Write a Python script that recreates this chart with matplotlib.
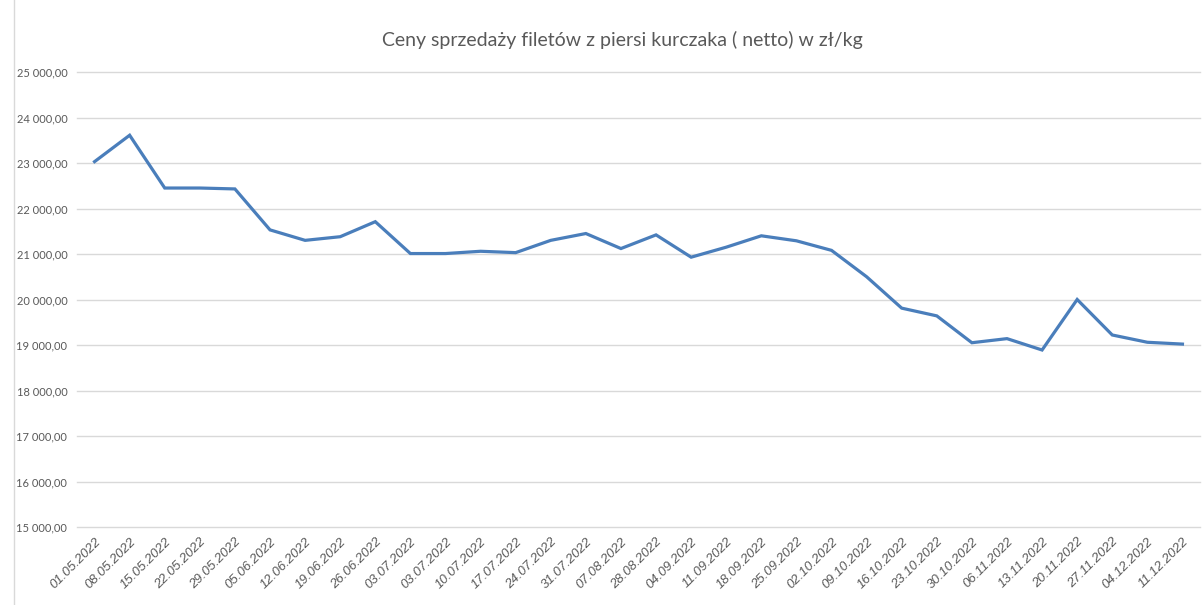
import numpy as np
import matplotlib.pyplot as plt
from matplotlib.patches import Rectangle
from matplotlib.ticker import FuncFormatter

plt.rcParams['font.family'] = ['Lato', 'Open Sans', 'DejaVu Sans']

dates = ['01.05.2022', '08.05.2022', '15.05.2022', '22.05.2022', '29.05.2022',
         '05.06.2022', '12.06.2022', '19.06.2022', '26.06.2022', '03.07.2022',
         '03.07.2022', '10.07.2022', '17.07.2022', '24.07.2022', '31.07.2022',
         '07.08.2022', '28.08.2022', '04.09.2022', '11.09.2022', '18.09.2022',
         '25.09.2022', '02.10.2022', '09.10.2022', '16.10.2022', '23.10.2022',
         '30.10.2022', '06.11.2022', '13.11.2022', '20.11.2022', '27.11.2022',
         '04.12.2022', '11.12.2022']
prices = [23030, 23610, 22450, 22450, 22430, 21530, 21300, 21380, 21710, 21010,
          21010, 21060, 21030, 21300, 21450, 21120, 21420, 20930, 21150, 21400,
          21290, 21080, 20500, 19810, 19640, 19050, 19140, 18890, 20000, 19220,
          19060, 19020]
title = 'Ceny sprzedaży filetów z piersi kurczaka ( netto) w zł/kg'

fig = plt.figure(figsize=(12.04, 6.05), dpi=100)
fig.patches.append(Rectangle((14 / 1204, -0.01), 1.0, 1.02, transform=fig.transFigure,
                             fill=False, edgecolor='#d9d9d9', lw=1))
ax = fig.add_axes([77 / 1204, 78 / 605, 1123 / 1204, 455 / 605])

x = np.arange(len(dates))
ax.plot(x, prices, color='#4a7ebb', lw=2.3, solid_joinstyle='miter')

ax.set_xlim(-0.5, len(dates) - 0.5)
ax.set_ylim(15000, 25000)
ax.set_yticks(np.arange(15000, 25001, 1000))
ax.yaxis.set_major_formatter(FuncFormatter(lambda v, p: f'{int(v):,}'.replace(',', ' ') + ',00'))
ax.grid(axis='y', color='#d9d9d9', lw=1)
for gl in ax.get_ygridlines():
    gl.set_clip_on(False)
ax.set_axisbelow(True)
for s in ax.spines.values():
    s.set_visible(False)
ax.tick_params(length=0, colors='#595959')
ax.tick_params(axis='y', labelsize=8, pad=7)

ax.set_xticks(x)
ax.set_xticklabels(dates, rotation=45, ha='right', rotation_mode='anchor',
                   fontsize=9.5, style='italic', family=['Liberation Sans', 'DejaVu Sans'])
ax.tick_params(axis='x', pad=6)

fig.text(622 / 1204, 1 - 40 / 605, title, ha='center', va='center',
         fontsize=14, color='#595959')

plt.savefig('out.png', dpi=100)
